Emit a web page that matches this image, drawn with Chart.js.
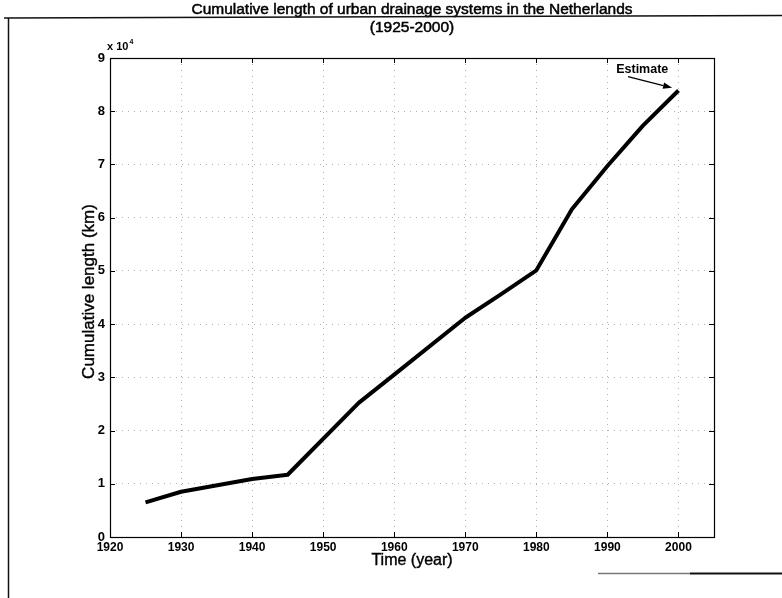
<!DOCTYPE html>
<html>
<head>
<meta charset="utf-8">
<title>Cumulative length of urban drainage systems in the Netherlands</title>
<script src="https://cdn.jsdelivr.net/npm/chart.js@4/dist/chart.umd.min.js"></script>
<style>
  html, body { margin: 0; padding: 0; background: #fff; overflow: hidden; }
  canvas { display: block; }
</style>
</head>
<body>
<canvas id="chart" width="782" height="598"></canvas>
<script>
// Cumulative sewer length (km) per year
const years = [1925, 1930, 1940, 1945, 1955, 1960, 1970, 1975, 1980, 1985, 1990, 1995, 2000];
const lengthKm = [6500, 8500, 10900, 11700, 25200, 30500, 41200, 45600, 50100, 61600, 69700, 77300, 83900];

// Axis ticks
const xTickYears = [1920, 1930, 1940, 1950, 1960, 1970, 1980, 1990, 2000];
const yTickValues = [0, 10000, 20000, 30000, 40000, 50000, 60000, 70000, 80000, 90000];
const yTickLabels = ['0', '1', '2', '3', '4', '5', '6', '7', '8', '9'];

// Texts
const titleLines = ['Cumulative length of urban drainage systems in the Netherlands', '(1925-2000)'];
const xAxisTitle = 'Time (year)';
const yAxisTitle = 'Cumulative length (km)';
const yExponent = '4';

// "Estimate" callout, in data units
const estimateLabel = { text: 'Estimate', year: 1994.9, km: 87900 };
const estimateArrowFrom = { year: 1992.9, km: 86500 };
const estimateArrowTo = { year: 1999.1, km: 84400 };

const FONT = '"Liberation Sans", Arial, Helvetica, sans-serif';

// Draw text with a faint outline so it reads a little heavier
function heavyText(ctx, text, x, y, weight) {
  ctx.fillText(text, x, y);
  ctx.save();
  ctx.lineWidth = weight;
  ctx.strokeStyle = ctx.fillStyle;
  ctx.strokeText(text, x, y);
  ctx.restore();
}

const decorations = {
  id: 'decorations',
  beforeDraw(chart) {
    const ctx = chart.ctx;
    ctx.save();
    ctx.fillStyle = '#fff';
    ctx.fillRect(0, 0, chart.width, chart.height);
    ctx.restore();
  },
  afterDraw(chart) {
    const ctx = chart.ctx;
    const { left, right, top, bottom } = chart.chartArea;
    const xs = chart.scales.x, ys = chart.scales.y;
    ctx.save();

    // axes box
    ctx.strokeStyle = '#000';
    ctx.lineWidth = 1.2;
    ctx.strokeRect(left + 0.5, top + 0.5, right - left, bottom - top);

    // inward tick marks on all four sides
    const tl = 5;
    ctx.lineWidth = 1;
    ctx.beginPath();
    xTickYears.forEach(v => {
      const px = Math.round(xs.getPixelForValue(v)) + 0.5;
      ctx.moveTo(px, bottom); ctx.lineTo(px, bottom - tl);
      ctx.moveTo(px, top); ctx.lineTo(px, top + tl);
    });
    yTickValues.forEach(v => {
      const py = Math.round(ys.getPixelForValue(v)) + 0.5;
      ctx.moveTo(left, py); ctx.lineTo(left + tl, py);
      ctx.moveTo(right, py); ctx.lineTo(right - tl, py);
    });
    ctx.stroke();

    ctx.fillStyle = '#000';

    // title
    ctx.textAlign = 'center';
    ctx.textBaseline = 'middle';
    ctx.font = '15.5px ' + FONT;
    const cx = (left + right) / 2;
    heavyText(ctx, titleLines[0], cx, 10, 0.5);
    heavyText(ctx, titleLines[1], cx, 28, 0.5);

    // exponent above y axis
    ctx.textAlign = 'left';
    ctx.textBaseline = 'alphabetic';
    ctx.font = 'bold 11px ' + FONT;
    ctx.fillText('x 10', left - 3, 50);
    const w = ctx.measureText('x 10').width;
    ctx.font = 'bold 7px ' + FONT;
    ctx.fillText(yExponent, left - 3 + w + 1, 44);

    // axis titles
    ctx.font = '16px ' + FONT;
    ctx.textAlign = 'center';
    ctx.textBaseline = 'middle';
    heavyText(ctx, xAxisTitle, cx, 561, 0.4);
    ctx.font = '17px ' + FONT;
    ctx.save();
    ctx.translate(89, (top + bottom) / 2 - 6);
    ctx.rotate(-Math.PI / 2);
    heavyText(ctx, yAxisTitle, 0, 0, 0.4);
    ctx.restore();

    // estimate callout
    ctx.font = 'bold 12.5px ' + FONT;
    ctx.fillText(estimateLabel.text, xs.getPixelForValue(estimateLabel.year), ys.getPixelForValue(estimateLabel.km));
    const x0 = xs.getPixelForValue(estimateArrowFrom.year), y0 = ys.getPixelForValue(estimateArrowFrom.km);
    const x1 = xs.getPixelForValue(estimateArrowTo.year), y1 = ys.getPixelForValue(estimateArrowTo.km);
    const ang = Math.atan2(y1 - y0, x1 - x0);
    const hl = 9, hw = 3.2;
    ctx.lineWidth = 1.2;
    ctx.beginPath();
    ctx.moveTo(x0, y0);
    ctx.lineTo(x1 - hl * Math.cos(ang), y1 - hl * Math.sin(ang));
    ctx.stroke();
    ctx.beginPath();
    ctx.moveTo(x1, y1);
    ctx.lineTo(x1 - hl * Math.cos(ang) + hw * Math.sin(ang), y1 - hl * Math.sin(ang) - hw * Math.cos(ang));
    ctx.lineTo(x1 - hl * Math.cos(ang) - hw * Math.sin(ang), y1 - hl * Math.sin(ang) + hw * Math.cos(ang));
    ctx.closePath();
    ctx.fill();

    // page frame
    ctx.strokeStyle = '#111';
    ctx.lineWidth = 1.5;
    ctx.beginPath();
    ctx.moveTo(4, 18); ctx.lineTo(782, 15.5);
    ctx.moveTo(8.5, 17.5); ctx.lineTo(8.5, 598);
    ctx.stroke();
    ctx.strokeStyle = '#777';
    ctx.lineWidth = 1.5;
    ctx.beginPath();
    ctx.moveTo(598, 573.5); ctx.lineTo(690, 573.5);
    ctx.stroke();
    ctx.strokeStyle = '#111';
    ctx.lineWidth = 2;
    ctx.beginPath();
    ctx.moveTo(690, 573.5); ctx.lineTo(782, 573.5);
    ctx.stroke();

    ctx.restore();
  }
};

const gridStyle = { color: 'rgba(0,0,0,0.3)', lineWidth: 1, drawTicks: false };

new Chart(document.getElementById('chart').getContext('2d'), {
  type: 'line',
  data: {
    datasets: [{
      data: years.map((yr, i) => ({ x: yr, y: lengthKm[i] })),
      borderColor: '#000',
      borderWidth: 4,
      borderJoinStyle: 'round',
      pointRadius: 0,
      tension: 0,
      fill: false
    }]
  },
  options: {
    responsive: false,
    animation: false,
    devicePixelRatio: 1,
    layout: { padding: { top: 58, right: 68, left: 0, bottom: 0 } },
    plugins: { legend: { display: false }, title: { display: false }, tooltip: { enabled: false } },
    scales: {
      x: {
        type: 'linear',
        min: 1920,
        max: 2005,
        afterBuildTicks: s => { s.ticks = xTickYears.map(v => ({ value: v })); },
        afterFit: s => { s.height = 61; },
        grid: gridStyle,
        border: { display: false, dash: [1, 5] },
        ticks: {
          color: '#000',
          padding: 3,
          maxRotation: 0,
          autoSkip: false,
          font: { family: FONT, size: 12, weight: 'bold' },
          callback: v => String(v)
        }
      },
      y: {
        type: 'linear',
        min: 0,
        max: 90000,
        afterBuildTicks: s => { s.ticks = yTickValues.map(v => ({ value: v })); },
        afterFit: s => { s.width = 110; },
        grid: gridStyle,
        border: { display: false, dash: [1, 5] },
        ticks: {
          color: '#000',
          padding: 5,
          autoSkip: false,
          font: { family: FONT, size: 13, weight: 'bold' },
          callback: (v) => yTickLabels[yTickValues.indexOf(v)]
        }
      }
    }
  },
  plugins: [decorations]
});
</script>
</body>
</html>
